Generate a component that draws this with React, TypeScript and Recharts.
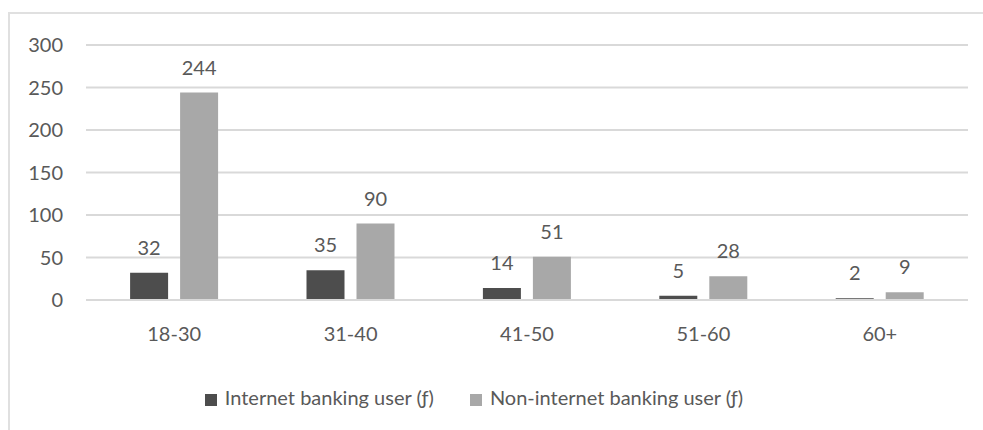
import React from 'react';
import { BarChart, Bar, XAxis, YAxis, CartesianGrid, Legend, LabelList } from 'recharts';

const categories = ['18-30', '31-40', '41-50', '51-60', '60+'];
const internetUsers = [32, 35, 14, 5, 2];
const nonInternetUsers = [244, 90, 51, 28, 9];
const yTicks = [0, 50, 100, 150, 200, 250, 300];
const seriesNames = ['Internet banking user (ƒ)', 'Non-internet banking user (ƒ)'];

const data = categories.map((c, i) => ({
  name: c,
  internet: internetUsers[i],
  nonInternet: nonInternetUsers[i],
}));

const FONT = 'Lato, "Open Sans", sans-serif';
const TEXT = '#595959';

export default function App() {
  return (
    <div style={{ position: 'absolute', left: 0, top: 0, width: 983, height: 430, background: '#fff', overflow: 'hidden' }}>
      <div style={{ position: 'absolute', left: 8, top: 12, width: 990, height: 440, border: '2px solid #e0e0e0', boxSizing: 'border-box' }} />
      <div style={{ position: 'absolute', left: 0, top: 0 }}>
        <BarChart
          width={983}
          height={430}
          data={data}
          margin={{ top: 45, right: 15, left: 0, bottom: 5 }}
          barCategoryGap="25%"
          barGap={12}
          style={{ fontFamily: FONT }}
        >
          <CartesianGrid vertical={false} stroke="#d9d9d9" strokeWidth={2} />
          <XAxis
            dataKey="name"
            height={85}
            tickLine={false}
            axisLine={{ stroke: '#d9d9d9', strokeWidth: 2 }}
            tick={{ fill: TEXT, fontSize: 20, fontFamily: FONT }}
            tickMargin={21}
          />
          <YAxis
            width={86}
            domain={[0, 300]}
            ticks={yTicks}
            tickLine={false}
            axisLine={false}
            tickSize={0}
            tickMargin={23}
            tick={{ fill: TEXT, fontSize: 20, fontFamily: FONT }}
          />
          <Legend
            verticalAlign="bottom"
            height={40}
            iconType="square"
            iconSize={12}
            wrapperStyle={{ fontFamily: FONT, fontSize: 20, color: TEXT, paddingLeft: 16, boxSizing: 'border-box' }}
            formatter={(v: string) => <span style={{ color: TEXT, marginLeft: 4, marginRight: 26 }}>{v}</span>}
          />
          <Bar dataKey="internet" name={seriesNames[0]} fill="#4d4d4d" isAnimationActive={false}>
            <LabelList dataKey="internet" position="top" offset={18} style={{ fill: TEXT, fontSize: 20, fontFamily: FONT }} />
          </Bar>
          <Bar dataKey="nonInternet" name={seriesNames[1]} fill="#a8a8a8" isAnimationActive={false}>
            <LabelList dataKey="nonInternet" position="top" offset={18} style={{ fill: TEXT, fontSize: 20, fontFamily: FONT }} />
          </Bar>
        </BarChart>
      </div>
    </div>
  );
}
